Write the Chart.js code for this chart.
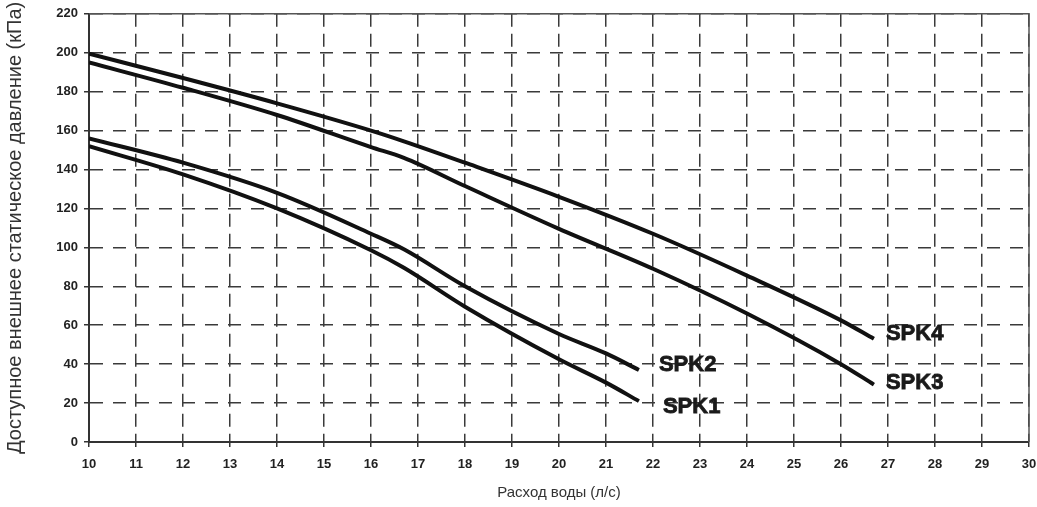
<!DOCTYPE html>
<html>
<head>
<meta charset="utf-8">
<script src="https://cdn.jsdelivr.net/npm/chart.js@4"></script>
<style>
  body { margin: 0; background: #fff; }
  #wrap { width: 1037px; height: 507px; }
</style>
</head>
<body>
<div id="wrap"><canvas id="chart"></canvas></div>
<script>
// values
const seriesNames = ['SPK1', 'SPK2', 'SPK3', 'SPK4'];
const spk12Flow = [10, 12, 14, 16, 16.7, 18, 20, 21, 21.7];
const spk1Pressure = [152, 137.5, 120, 98.5, 89.5, 69.5, 42.5, 30.5, 21];
const spk2Pressure = [156, 143.5, 128, 107, 99, 80, 55.5, 45.5, 37];
const spk34Flow = [10, 12, 14, 16, 16.7, 18, 20, 22, 24, 26, 26.7];
const spk3Pressure = [195, 182, 168, 151.5, 146, 131.5, 109.5, 89, 66, 40, 29.5];
const spk4Pressure = [199.5, 187, 174, 160, 154.5, 143.5, 126, 107, 85.5, 62.5, 53];
const xTicks = [10, 11, 12, 13, 14, 15, 16, 17, 18, 19, 20, 21, 22, 23, 24, 25, 26, 27, 28, 29, 30];
const yTicks = [0, 20, 40, 60, 80, 100, 120, 140, 160, 180, 200, 220];

const FONT = '"Liberation Sans", Arial, sans-serif';

function pts(xs, ys) {
    return xs.map((x, i) => ({ x: x, y: ys[i] }));
}

// label offsets from each curve end (px)
const labelOffsets = { SPK1: [24, 6], SPK2: [20, -5], SPK3: [12, -2], SPK4: [12, -5] };

const endLabels = {
    id: 'endLabels',
    afterDatasetsDraw(chart) {
        const ctx = chart.ctx;
        ctx.save();
        ctx.font = 'bold 22px ' + FONT;
        ctx.fillStyle = '#1a1a1a';
        ctx.strokeStyle = '#1a1a1a';
        ctx.lineWidth = 0.8;
        ctx.textBaseline = 'middle';
        ctx.textAlign = 'left';
        chart.data.datasets.forEach((ds, i) => {
            const meta = chart.getDatasetMeta(i);
            const last = meta.data[meta.data.length - 1];
            const off = labelOffsets[ds.label];
            ctx.fillText(ds.label, last.x + off[0], last.y + off[1]);
            ctx.strokeText(ds.label, last.x + off[0], last.y + off[1]);
        });
        ctx.restore();
    }
};

const frame = {
    id: 'frame',
    afterDraw(chart) {
        const a = chart.chartArea;
        const ctx = chart.ctx;
        ctx.save();
        ctx.strokeStyle = '#555';
        ctx.lineWidth = 1.5;
        ctx.beginPath();
        ctx.moveTo(a.left, a.top);
        ctx.lineTo(a.right, a.top);
        ctx.lineTo(a.right, a.bottom);
        ctx.stroke();
        ctx.restore();
    }
};

const lineStyle = {
    borderColor: '#111',
    borderWidth: 4,
    pointRadius: 0,
    fill: false,
    cubicInterpolationMode: 'monotone'
};

new Chart(document.getElementById('chart'), {
    type: 'line',
    data: {
        datasets: [
            Object.assign({ label: seriesNames[0], data: pts(spk12Flow, spk1Pressure) }, lineStyle),
            Object.assign({ label: seriesNames[1], data: pts(spk12Flow, spk2Pressure) }, lineStyle),
            Object.assign({ label: seriesNames[2], data: pts(spk34Flow, spk3Pressure) }, lineStyle),
            Object.assign({ label: seriesNames[3], data: pts(spk34Flow, spk4Pressure) }, lineStyle)
        ]
    },
    options: {
        responsive: true,
        maintainAspectRatio: false,
        animation: false,
        layout: { padding: { left: 3, right: 8, top: 13, bottom: 5 } },
        plugins: {
            legend: { display: false },
            tooltip: { enabled: false }
        },
        scales: {
            x: {
                type: 'linear',
                min: 10,
                max: 30,
                afterBuildTicks: (s) => { s.ticks = xTicks.map(v => ({ value: v })); },
                afterFit: (s) => { s.height = 60; s.paddingRight = 0; s.paddingLeft = 0; },
                ticks: {
                    color: '#222',
                    font: { family: FONT, size: 13, weight: 'bold' },
                    padding: 10
                },
                grid: { color: '#3a3a3a', lineWidth: 1.5, tickLength: 5, tickColor: '#333' },
                border: { color: '#333', width: 2, dash: [13, 7] },
                title: {
                    display: true,
                    text: 'Расход воды (л/с)',
                    color: '#333',
                    font: { family: FONT, size: 15 },
                    padding: { top: 0, bottom: 0 }
                }
            },
            y: {
                min: 0,
                max: 220,
                afterBuildTicks: (s) => { s.ticks = yTicks.map(v => ({ value: v })); },
                afterFit: (s) => { s.width = 86; },
                ticks: {
                    color: '#222',
                    font: { family: FONT, size: 13, weight: 'bold' },
                    padding: 6
                },
                grid: { color: '#3a3a3a', lineWidth: 1.5, tickLength: 5, tickColor: '#333' },
                border: { color: '#333', width: 2, dash: [13, 10] },
                title: {
                    display: true,
                    text: 'Доступное внешнее статическое давление (кПа)',
                    color: '#333',
                    font: { family: FONT, size: 20 },
                    padding: { top: 0, bottom: 0 }
                }
            }
        }
    },
    plugins: [endLabels, frame]
});
</script>
</body>
</html>
